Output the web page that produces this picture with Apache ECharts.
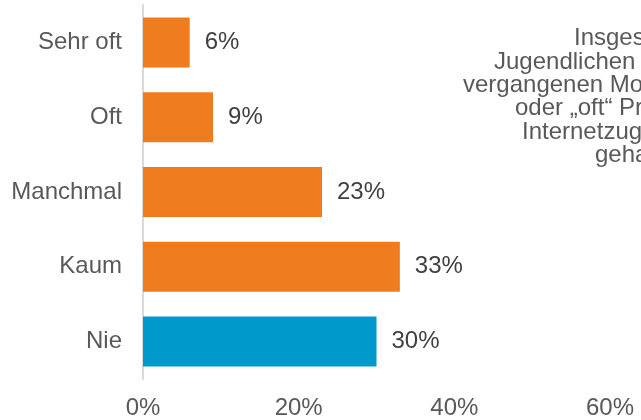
<!DOCTYPE html>
<html>
<head>
<meta charset="utf-8">
<script src="https://cdn.jsdelivr.net/npm/echarts@6/dist/echarts.min.js"></script>
<style>
html,body{margin:0;padding:0;background:#fff;}
#c{width:641px;height:420px;}
</style>
</head>
<body>
<div id="c"></div>
<script>
const categories = ['Sehr oft', 'Oft', 'Manchmal', 'Kaum', 'Nie'];
const values = [6, 9, 23, 33, 30];
const barColors = ['#EF7D1F', '#EF7D1F', '#EF7D1F', '#EF7D1F', '#0099CC'];
const xTicks = [0, 20, 40, 60];
const noteLines = [
  'Insgesamt hatten',
  'Jugendlichen',
  'vergangenen Monat „sehr oft“',
  'oder „oft“ Probleme mit dem',
  'Internetzugang zu Hause',
  'gehabt.'
];
const noteX = [574, 494, 463, 515, 522, 595];

const FONT = 'Liberation Sans, Arial, sans-serif';
const chart = echarts.init(document.getElementById('c'), null, {renderer: 'canvas'});
chart.setOption({
  animation: false,
  grid: {left: 143, right: 31, top: 5, bottom: 40, containLabel: false},
  xAxis: {
    type: 'value',
    min: xTicks[0],
    max: xTicks[xTicks.length - 1],
    interval: 20,
    axisLine: {show: false},
    axisTick: {show: false},
    splitLine: {show: false},
    axisLabel: {
      formatter: v => v + '%',
      color: '#595959',
      fontFamily: FONT,
      fontSize: 24,
      margin: 17
    }
  },
  yAxis: {
    type: 'category',
    data: categories,
    inverse: true,
    axisLine: {show: true, lineStyle: {color: '#D9D9D9', width: 2}},
    axisTick: {show: false},
    axisLabel: {
      color: '#595959',
      fontFamily: FONT,
      fontSize: 24,
      margin: 21
    }
  },
  series: [{
    type: 'bar',
    barWidth: 50,
    data: values.map((v, i) => ({value: v, itemStyle: {color: barColors[i]}})),
    label: {
      show: true,
      position: 'right',
      distance: 15,
      formatter: p => p.value + '%',
      color: '#404040',
      fontFamily: FONT,
      fontSize: 24
    }
  }],
  graphic: noteLines.map((t, i) => ({
    type: 'text',
    left: noteX[i],
    top: 26.5 + i * 23.4,
    style: {
      text: t,
      fill: '#595959',
      font: '24px ' + FONT
    }
  }))
});
</script>
</body>
</html>
